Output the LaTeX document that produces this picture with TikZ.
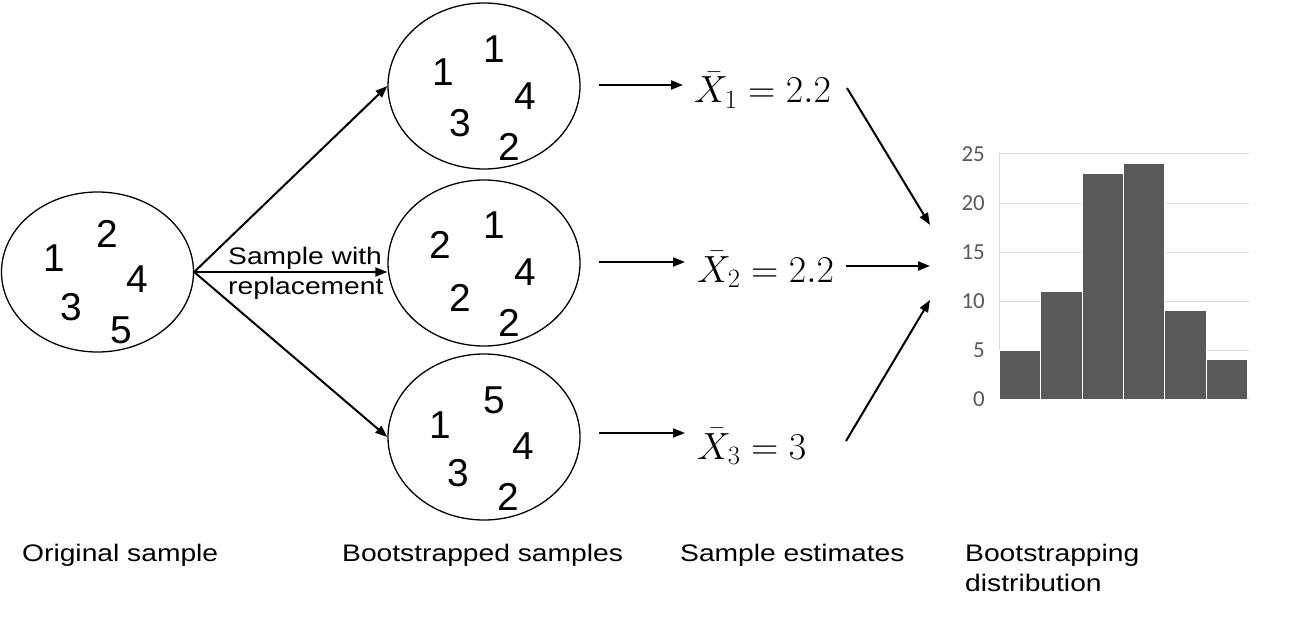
\RequirePackage{fix-cm}
\documentclass[tikz,border=0pt]{standalone}
\usepackage[no-math]{fontspec}
\setmainfont{Liberation Sans}
\newfontfamily\labelfont[FakeStretch=1.18]{Liberation Sans}
\newfontfamily\axisfont{Carlito}
\usetikzlibrary{shapes.geometric,arrows.meta}
\definecolor{bargray}{HTML}{595959}
\definecolor{gridgray}{HTML}{D9D9D9}
\begin{document}
\begin{tikzpicture}[x=1bp,y=-1bp,
  sample/.style={ellipse, draw, line width=1.3bp, minimum width=192bp, minimum height=166bp, inner sep=0},
  digit/.style={inner sep=0, font=\fontsize{39}{39}\selectfont},
  arr/.style={line width=2bp, -{Triangle[length=12bp,width=9bp]}},
  lab/.style={anchor=base west, inner sep=0, font=\labelfont\fontsize{24}{30}\selectfont, align=left},
  est/.style={anchor=base west, inner sep=0, font=\fontsize{38}{38}\selectfont},
  tick/.style={anchor=east, inner sep=0, text=bargray, font=\axisfont\fontsize{23}{23}\selectfont},
  grid line/.style={draw=gridgray, line width=1bp},
  bar/.style={fill=bargray, draw=white, line width=1bp}]
\useasboundingbox (0,0) rectangle (1306,620);

% ellipses
\node[sample, minimum height=160bp] (orig) at (97.5,272) {};
\node[sample] (b1) at (484,86) {};
\node[sample] (b2) at (484,263) {};
\node[sample] (b3) at (484,437) {};

% digits
\foreach \x/\y/\t [count=\i] in {54/258/1, 107/234/2, 137/279/4, 71/307/3, 121/330/5,
   443/72/1, 494/49/1, 525/96/4, 460/123/3, 509/147/2,
   440/245/2, 494/225/1, 525/272/4, 460/298/2, 509/323/2,
   440/425/1, 494/400/5, 523/446/4, 458/473/3, 508/497/2}
  \node[digit] (d\i) at (\x,\y) {\t};

% arrows from original sample
\draw[arr] (orig.east) -- (b1.west);
\draw[arr] (orig.east) -- (orig.east -| b2.west);
\draw[arr] (orig.east) -- (b3.west);

\node[lab] (swr) at (228,294) {Sample with\\replacement};

% estimates
\node[est] (e1) at (694,103) {$\bar{X}_1 = 2.2$};
\node[est] (e2) at (697,282) {$\bar{X}_2 = 2.2$};
\node[est] (e3) at (697,459) {$\bar{X}_3 = 3$};

\draw[arr, shorten <=18bp] ([yshift=1bp]b1.east) -- ([xshift=-11bp,yshift=1bp]b1.east -| e1.west);
\draw[arr, shorten <=18bp] ([yshift=1bp]b2.east) -- ([xshift=-12bp,yshift=1bp]b2.east -| e2.west);
\draw[arr, shorten <=18bp] ([yshift=4bp]b3.east) -- ([xshift=-12bp,yshift=4bp]b3.east -| e3.west);

% histogram
\foreach \v in {0,5,...,25}
  \draw[grid line] (999,{399-9.8*\v}) -- (1249,{399-9.8*\v});
\draw[grid line] (999,154) -- (999,399);
\foreach \h [count=\i from 0] in {5,11,23,24,9,4}
  \path[bar] ({999.5+41.33*\i},399) rectangle ({999.5+41.33*(\i+1)},{399-9.8*\h});
\foreach \v [count=\i] in {0,5,10,15,20,25}
  \node[tick] (tk\i) at (985,{399-9.8*\v}) {\v};

\coordinate (s1) at (847,88);  \coordinate (t1) at (930,225);
\coordinate (s2) at (846,266); \coordinate (t2) at (930,266);
\coordinate (s3) at (846,441); \coordinate (t3) at (930,300);
\draw[arr] (s1) -- (t1);
\draw[arr] (s2) -- (t2);
\draw[arr] (s3) -- (t3);

% bottom labels
\node[lab] (l1) at (22,561) {Original sample};
\node[lab] (l2) at (342,561) {Bootstrapped samples};
\node[lab] (l3) at (680,561) {Sample estimates};
\node[lab] (l4) at (965,591) {Bootstrapping\\distribution};
\end{tikzpicture}
\end{document}
